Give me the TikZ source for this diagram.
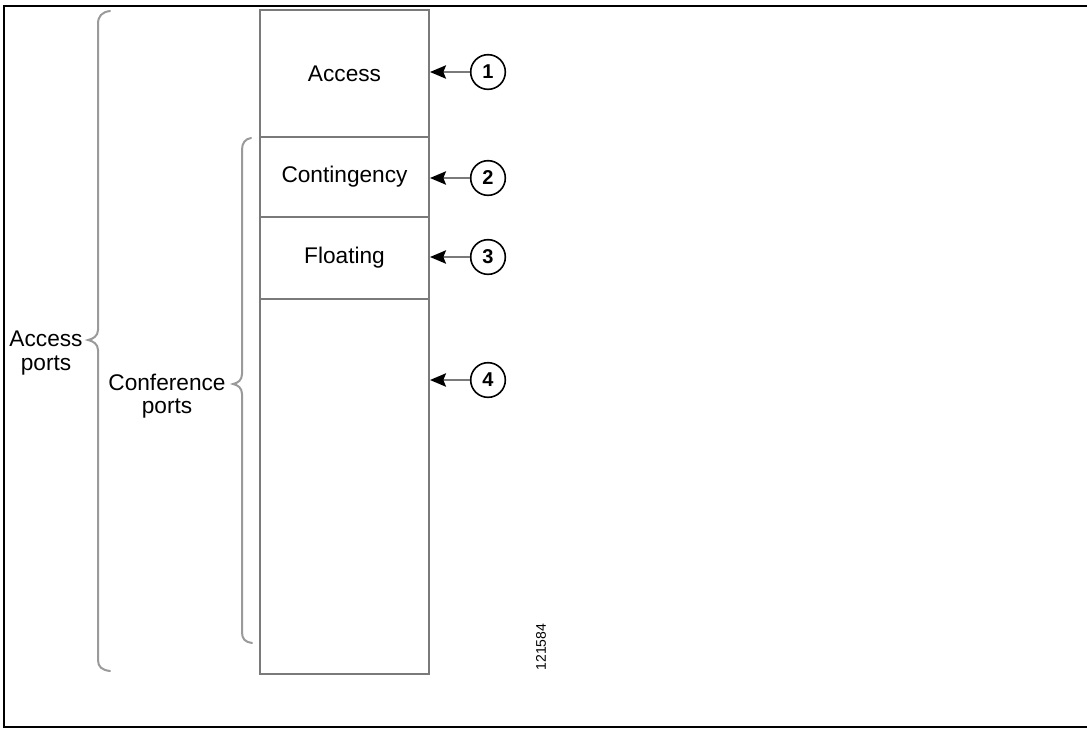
\documentclass[tikz,border=0pt]{standalone}
\usepackage{fontspec}
\setmainfont{Liberation Sans}
\usetikzlibrary{arrows.meta,calc}
\definecolor{boxgray}{HTML}{7A7A7A}
\definecolor{bracegray}{HTML}{9A9A9A}
\begin{document}
\begin{tikzpicture}[x=0.75pt,y=-0.75pt,
  section/.style={draw=boxgray,line width=1.5pt,rectangle,inner sep=0pt,
    minimum width=126.75pt,anchor=north west,font=\fontsize{17}{20}\selectfont},
  num/.style={draw=black,circle,line width=1.2pt,minimum size=26pt,inner sep=0pt,
    font=\fontsize{15}{17}\selectfont\bfseries},
  pointer/.style={draw=boxgray,line width=1.5pt,-{Stealth[length=12pt,width=10pt,inset=2pt,black]}},
  brace/.style={draw=bracegray,line width=1.5pt,line cap=round},
  lbl/.style={align=center,font=\fontsize{17}{17.5}\selectfont,inner sep=0pt}
]
\useasboundingbox (0,0) rectangle (1087,729);
% outer frame
\draw[line width=1.6pt] (1090,6) -- (4,6) -- (4,727) -- (1090,727);
% box sections
\node[section,minimum height=95.25pt] (s1) at (259,9) {Access};
\node[section,minimum height=60pt] (s2) at (259,136) {Contingency};
\node[section,minimum height=61.5pt] (s3) at (259,216) {Floating};
\node[section,minimum height=281.25pt] (s4) at (259,298) {};
% numbered circles
\node[num] (c1) at (488,72) {1};
\node[num] (c2) at (488,178) {2};
\node[num] (c3) at (488,257) {3};
\node[num] (c4) at (488,380) {4};
\draw[pointer] (c1.west) -- (c1.west -| s1.east);
\draw[pointer] (c2.west) -- (c2.west -| s2.east);
\draw[pointer] (c3.west) -- (c3.west -| s3.east);
\draw[pointer] (c4.west) -- (c4.west -| s4.east);
% braces
\coordinate (tipA) at (88,340);
\coordinate (tipC) at (233,384);
\draw[brace] (110,11) .. controls (102,12) and (98,16) .. (98,24) -- (98,330)
  .. controls (98,336) and (93,339) .. (tipA)
  .. controls (93,341) and (98,344) .. (98,350) -- (98,660)
  .. controls (98,667) and (102,670) .. (110,671);
\draw[brace] (251,138) .. controls (245,139) and (242,143) .. (242,150) -- (242,374)
  .. controls (242,380) and (238,383) .. (tipC)
  .. controls (238,385) and (242,388) .. (242,394) -- (242,632)
  .. controls (242,639) and (245,642) .. (252,643);
\node[lbl] (accports) at (46,353) {Access\\ports};
\node[lbl] (confports) at (167,396) {Conference\\ports};
% figure id
\node[rotate=90,font=\fontsize{10.5}{12}\selectfont,inner sep=0pt] (figid) at (541,647) {121584};
\end{tikzpicture}
\end{document}
